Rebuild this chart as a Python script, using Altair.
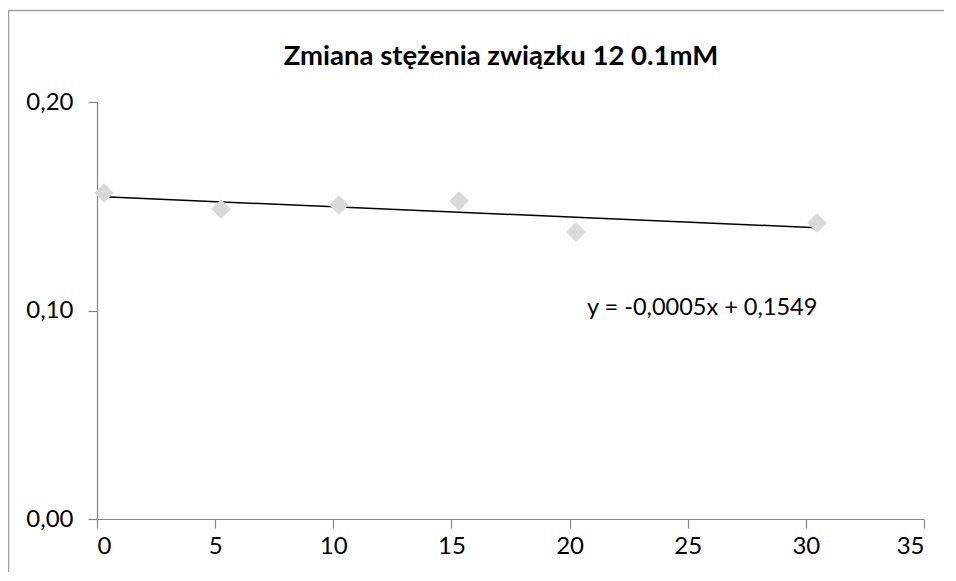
import altair as alt
import pandas as pd

# data
czas = [0.3, 5.25, 10.24, 15.32, 20.27, 30.47]
stezenie = [0.1564, 0.1487, 0.1506, 0.1525, 0.1376, 0.1420]
x_ticks = [0, 5, 10, 15, 20, 25, 30, 35]
y_ticks = [0.0, 0.10, 0.20]
tytul = "Zmiana stężenia związku 12 0.1mM"
rownanie = "y = -0,0005x + 0,1549"

df = pd.DataFrame({"x": czas, "y": stezenie})

FONT = "Lato"
AXIS_GRAY = "#868686"

x_enc = alt.X(
    "x:Q",
    scale=alt.Scale(domain=[0, 35], nice=False),
    axis=alt.Axis(
        values=x_ticks, title=None, grid=False, domainColor=AXIS_GRAY,
        tickColor=AXIS_GRAY, tickSize=9, labelFontSize=24, labelFont=FONT,
        labelColor="#000000", labelPadding=6, domainWidth=1.2, tickWidth=1.2,
    ),
)
y_enc = alt.Y(
    "y:Q",
    scale=alt.Scale(domain=[0, 0.2], nice=False),
    axis=alt.Axis(
        values=y_ticks, title=None, grid=False, domainColor=AXIS_GRAY,
        tickColor=AXIS_GRAY, tickSize=9, labelFontSize=24, labelFont=FONT,
        labelColor="#000000", labelPadding=15, domainWidth=1.2, tickWidth=1.2,
        labelExpr="replace(format(datum.value, '.2f'), '.', ',')",
    ),
)

base = alt.Chart(df)

points = base.mark_point(
    shape="diamond", filled=True, color="#d9d9d9", size=380, opacity=1
).encode(x=x_enc, y=y_enc)

trend = base.transform_regression("x", "y").mark_line(
    color="#000000", strokeWidth=1.5
).encode(x="x:Q", y="y:Q")

label = alt.Chart(pd.DataFrame({"t": [rownanie]})).mark_text(
    align="left", baseline="middle", fontSize=23.5, font=FONT, color="#000000"
).encode(x=alt.datum(20.74), y=alt.datum(0.1012), text="t:N")

title_mark = alt.Chart(pd.DataFrame({"t": [tytul]})).mark_text(
    align="center", baseline="alphabetic", fontSize=27.5, font=FONT,
    fontWeight="bold", color="#000000",
).encode(x=alt.value(404), y=alt.value(-37), text="t:N")

BORDER = "#a0a0a0"
border_v = alt.Chart(pd.DataFrame({"a": [0]})).mark_rule(
    color=BORDER, strokeWidth=1.5
).encode(x=alt.value(-88.5), y=alt.value(-92), y2=alt.value(470))
border_h = alt.Chart(pd.DataFrame({"a": [0]})).mark_rule(
    color=BORDER, strokeWidth=1.5
).encode(y=alt.value(-91.5), x=alt.value(-88.5), x2=alt.value(847))

chart = (
    alt.layer(border_v, border_h, trend, points, label, title_mark)
    .properties(
        width=827,
        height=417,
        padding={"left": 89, "top": 94, "right": 20, "bottom": 54},
        autosize=alt.AutoSizeParams(type="none"),
        view=alt.ViewBackground(stroke="transparent", strokeWidth=0),
    )
    .configure_view(stroke="transparent", strokeWidth=0, strokeOpacity=0)
    .configure(background="white")
)

chart.save("out.html", embed_options={"renderer": "svg", "actions": False})
